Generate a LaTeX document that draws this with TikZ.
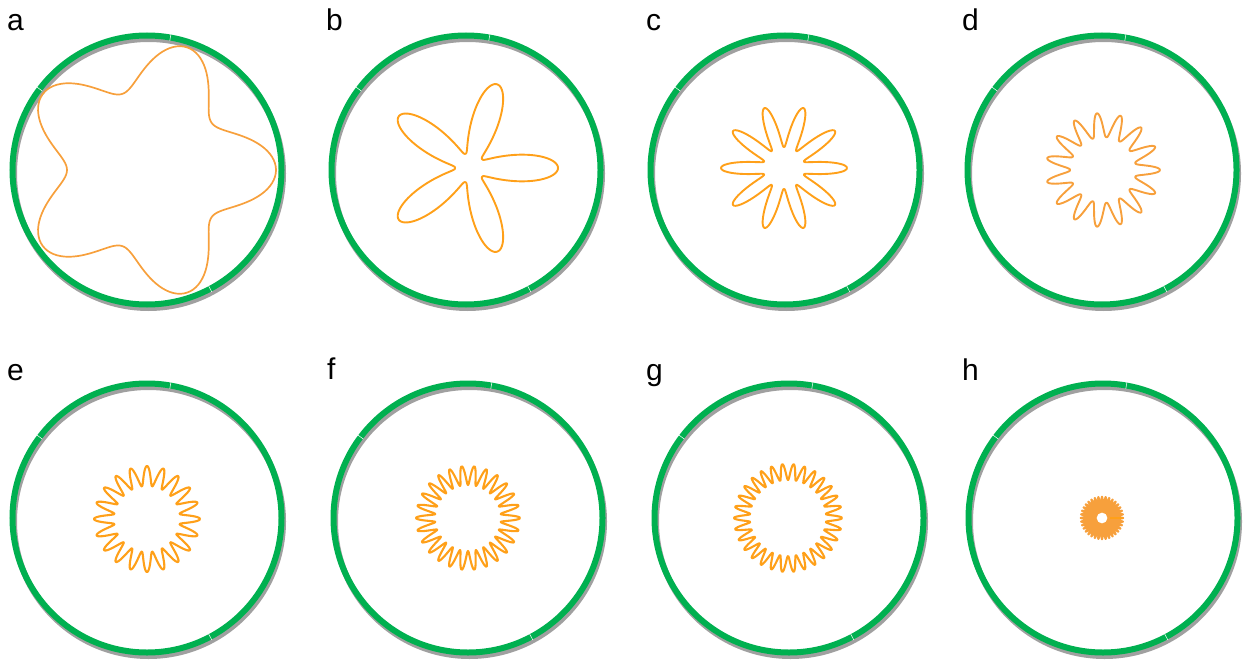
\documentclass[tikz,border=0pt]{standalone}
\usepackage{fontspec}
\setmainfont{Liberation Sans}
\definecolor{ringgreen}{RGB}{0,176,80}
\definecolor{ringshadow}{RGB}{160,160,160}
\definecolor{curveorange}{RGB}{255,160,25}
\definecolor{softorange}{RGB}{247,160,60}
\begin{document}
\begin{tikzpicture}[x=1pt,y=-1pt,
  ring/.style={draw=ringgreen, line width=6pt},
  ringshade/.style={draw=ringshadow, line width=6pt},
  ringgap/.style={draw=white, line width=0.5pt},
  curve/.style={draw=curveorange, line width=1.9pt, line join=round},
  panellabel/.style={anchor=base west, inner sep=0pt, font=\fontsize{30}{30}\selectfont}]
\useasboundingbox (0,0) rectangle (1249,663);

% ring centres
\coordinate (ca) at (147,170);
\coordinate (cb) at (466,170);
\coordinate (cc) at (785,170);
\coordinate (cd) at (1102,170);
\coordinate (ce) at (147,518);
\coordinate (cf) at (468,518);
\coordinate (cg) at (789,518);
\coordinate (ch) at (1103,518);

% rings with shadow
\foreach \c in {ca,cb,cc,cd,ce,cf,cg,ch}{
  \draw[ringshade] ([shift={(1.5,3.5)}]\c) circle[radius=134.5];
  \draw[ring] (\c) circle[radius=134.5];
  \draw[ringgap, shift={(\c)}] (-80:131) -- (-80:138);
  \draw[ringgap, shift={(\c)}] (-143:131) -- (-143:138);
  \draw[ringgap, shift={(\c)}] (62:131) -- (62:138);
}

% labels
\node[panellabel] (la) at (7,31) {a};
\node[panellabel] (lb) at (326,31) {b};
\node[panellabel] (lc) at (646,31) {c};
\node[panellabel] (ld) at (962,31) {d};
\node[panellabel] (le) at (7,380) {e};
\node[panellabel] (lf) at (327,379) {f};
\node[panellabel] (lg) at (646,380) {g};
\node[panellabel] (lh) at (962,380) {h};

% a: five broad lobes
\draw[curve, draw=softorange, line width=1.7pt, shift={(147,170)}]
  plot[domain=0:360, samples=241, smooth, variable=\t]
  ({(104.5+24.5*cos(5*\t))*cos(\t)}, {(104.5+24.5*cos(5*\t))*sin(\t)});

% b: five petals
\draw[curve, shift={(470,168)}]
  plot[domain=0:360, samples=361, smooth, variable=\t]
  ({(15+73*((1+cos(5*\t))/2)*sqrt((1+cos(5*\t))/2))*cos(\t)},
   {(15+73*((1+cos(5*\t))/2)*sqrt((1+cos(5*\t))/2))*sin(\t)});

% c: ten petals
\draw[curve, shift={(784,168)}]
  plot[domain=0:360, samples=361, smooth, variable=\t]
  ({(21+42*((1+cos(10*\t))/2)*sqrt(sqrt((1+cos(10*\t))/2)))*cos(\t)},
   {(21+42*((1+cos(10*\t))/2)*sqrt(sqrt((1+cos(10*\t))/2)))*sin(\t)});

% d: fifteen lobes
\draw[curve, draw=softorange, shift={(1103,170)}]
  plot[domain=0:360, samples=451, smooth, variable=\t]
  ({(33+24*((1+cos(15*\t))/2)*sqrt(sqrt((1+cos(15*\t))/2)))*cos(\t)},
   {(33+24*((1+cos(15*\t))/2)*sqrt(sqrt((1+cos(15*\t))/2)))*sin(\t)});

% e: twenty lobes
\draw[curve, line width=2.1pt, shift={(147,519)}]
  plot[domain=0:360, samples=481, smooth, variable=\t]
  ({(43+10*cos(20*\t))*cos(\t)}, {(43+10*cos(20*\t))*sin(\t)});

% f: twenty-six lobes
\draw[curve, line width=2.1pt, shift={(468,518)}]
  plot[domain=0:360, samples=521, smooth, variable=\t]
  ({(42.5+9.5*cos(26*\t))*cos(\t)}, {(42.5+9.5*cos(26*\t))*sin(\t)});

% g: thirty lobes
\draw[curve, line width=2.1pt, shift={(788,518)}]
  plot[domain=0:360, samples=601, smooth, variable=\t]
  ({(46+8*cos(30*\t))*cos(\t)}, {(46+8*cos(30*\t))*sin(\t)});

% h: dense gear
\fill[softorange, even odd rule, shift={(1102,518)}] (0,0) circle[radius=16.5] (0,0) circle[radius=5.5];
\draw[curve, draw=softorange, line width=1.6pt, shift={(1102,518)}]
  plot[domain=0:360, samples=721, smooth, variable=\t]
  ({(18+3.5*cos(36*\t))*cos(\t)}, {(18+3.5*cos(36*\t))*sin(\t)});
\draw[curveorange, line width=1.6pt, shift={(1102,518)}] (0:8) -- (0:21);
\end{tikzpicture}
\end{document}
